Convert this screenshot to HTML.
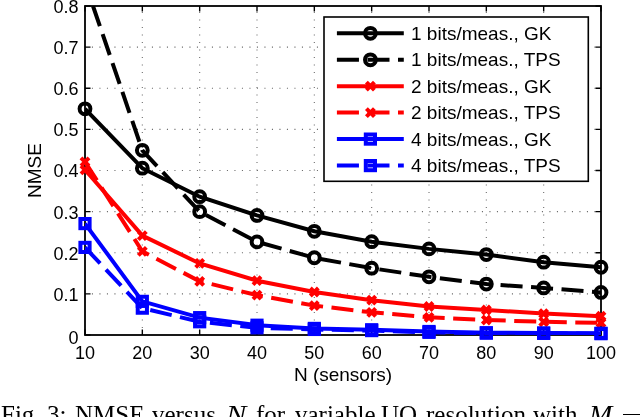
<!DOCTYPE html>
<html><head><meta charset="utf-8"><style>
html,body{margin:0;padding:0;background:#fff;width:640px;height:417px;overflow:hidden;position:relative}
.w{will-change:transform;position:absolute;top:401px;white-space:nowrap;font-family:"Liberation Serif",serif;font-size:25px;color:#000;line-height:27px}
.w i{font-style:italic}
</style></head><body>
<svg width="640" height="417" viewBox="0 0 640 417" style="position:absolute;left:0;top:0;will-change:transform">
<defs><clipPath id="ax"><rect x="85.0" y="6.0" width="516.0" height="329.0"/></clipPath></defs>
<g stroke="#6e6e6e" stroke-width="1.1" stroke-dasharray="1.1 6.4" stroke-dashoffset="-6.9"><line x1="142.33" y1="335.00" x2="142.33" y2="6.00"/><line x1="199.67" y1="335.00" x2="199.67" y2="6.00"/><line x1="257.00" y1="335.00" x2="257.00" y2="6.00"/><line x1="314.33" y1="335.00" x2="314.33" y2="6.00"/><line x1="371.67" y1="335.00" x2="371.67" y2="6.00"/><line x1="429.00" y1="335.00" x2="429.00" y2="6.00"/><line x1="486.33" y1="335.00" x2="486.33" y2="6.00"/><line x1="543.67" y1="335.00" x2="543.67" y2="6.00"/><line x1="85.00" y1="293.88" x2="601.00" y2="293.88"/><line x1="85.00" y1="252.75" x2="601.00" y2="252.75"/><line x1="85.00" y1="211.62" x2="601.00" y2="211.62"/><line x1="85.00" y1="170.50" x2="601.00" y2="170.50"/><line x1="85.00" y1="129.38" x2="601.00" y2="129.38"/><line x1="85.00" y1="88.25" x2="601.00" y2="88.25"/><line x1="85.00" y1="47.13" x2="601.00" y2="47.13"/></g>
<path d="M85.00 335.0V329.5M85.00 6.0V11.5M142.33 335.0V329.5M142.33 6.0V11.5M199.67 335.0V329.5M199.67 6.0V11.5M257.00 335.0V329.5M257.00 6.0V11.5M314.33 335.0V329.5M314.33 6.0V11.5M371.67 335.0V329.5M371.67 6.0V11.5M429.00 335.0V329.5M429.00 6.0V11.5M486.33 335.0V329.5M486.33 6.0V11.5M543.67 335.0V329.5M543.67 6.0V11.5M601.00 335.0V329.5M601.00 6.0V11.5M85.0 335.00H90.5M601.0 335.00H595.5M85.0 293.88H90.5M601.0 293.88H595.5M85.0 252.75H90.5M601.0 252.75H595.5M85.0 211.62H90.5M601.0 211.62H595.5M85.0 170.50H90.5M601.0 170.50H595.5M85.0 129.38H90.5M601.0 129.38H595.5M85.0 88.25H90.5M601.0 88.25H595.5M85.0 47.13H90.5M601.0 47.13H595.5M85.0 6.00H90.5M601.0 6.00H595.5" stroke="#000" stroke-width="1.4" fill="none"/>
<rect x="85.0" y="6.0" width="516.0" height="329.0" fill="none" stroke="#000" stroke-width="1.8"/>
<g clip-path="url(#ax)"><polyline points="85.00,108.81 142.33,168.20 199.67,196.70 257.00,215.41 314.33,231.28 371.67,241.69 429.00,248.88 486.33,254.60 543.67,262.21 601.00,267.27" fill="none" stroke="#000" stroke-width="4.0" stroke-linejoin="miter" stroke-linecap="butt"/></g><circle cx="85.00" cy="108.81" r="5.4" fill="none" stroke="#000" stroke-width="4.0"/><circle cx="142.33" cy="168.20" r="5.4" fill="none" stroke="#000" stroke-width="4.0"/><circle cx="199.67" cy="196.70" r="5.4" fill="none" stroke="#000" stroke-width="4.0"/><circle cx="257.00" cy="215.41" r="5.4" fill="none" stroke="#000" stroke-width="4.0"/><circle cx="314.33" cy="231.28" r="5.4" fill="none" stroke="#000" stroke-width="4.0"/><circle cx="371.67" cy="241.69" r="5.4" fill="none" stroke="#000" stroke-width="4.0"/><circle cx="429.00" cy="248.88" r="5.4" fill="none" stroke="#000" stroke-width="4.0"/><circle cx="486.33" cy="254.60" r="5.4" fill="none" stroke="#000" stroke-width="4.0"/><circle cx="543.67" cy="262.21" r="5.4" fill="none" stroke="#000" stroke-width="4.0"/><circle cx="601.00" cy="267.27" r="5.4" fill="none" stroke="#000" stroke-width="4.0"/>
<g clip-path="url(#ax)"><polyline points="93.01,6.00 142.33,150.35 199.67,211.67 257.00,241.89 314.33,257.77 371.67,268.21 429.00,276.81 486.33,284.09 543.67,287.91 601.00,292.44" fill="none" stroke="#000" stroke-width="4.0" stroke-linejoin="miter" stroke-linecap="butt" stroke-dasharray="22.05 8.5" stroke-dashoffset="0.8"/></g><circle cx="142.33" cy="150.35" r="5.4" fill="none" stroke="#000" stroke-width="4.0"/><circle cx="199.67" cy="211.67" r="5.4" fill="none" stroke="#000" stroke-width="4.0"/><circle cx="257.00" cy="241.89" r="5.4" fill="none" stroke="#000" stroke-width="4.0"/><circle cx="314.33" cy="257.77" r="5.4" fill="none" stroke="#000" stroke-width="4.0"/><circle cx="371.67" cy="268.21" r="5.4" fill="none" stroke="#000" stroke-width="4.0"/><circle cx="429.00" cy="276.81" r="5.4" fill="none" stroke="#000" stroke-width="4.0"/><circle cx="486.33" cy="284.09" r="5.4" fill="none" stroke="#000" stroke-width="4.0"/><circle cx="543.67" cy="287.91" r="5.4" fill="none" stroke="#000" stroke-width="4.0"/><circle cx="601.00" cy="292.44" r="5.4" fill="none" stroke="#000" stroke-width="4.0"/>
<g clip-path="url(#ax)"><polyline points="85.00,169.80 142.33,235.60 199.67,263.44 257.00,280.71 314.33,292.02 371.67,300.21 429.00,306.50 486.33,310.00 543.67,313.57 601.00,316.25" fill="none" stroke="#f00" stroke-width="4.0" stroke-linejoin="miter" stroke-linecap="butt"/></g><path d="M81.00 165.80L89.00 173.80M89.00 165.80L81.00 173.80" fill="none" stroke="#f00" stroke-width="4.0" stroke-linecap="butt"/><path d="M138.33 231.60L146.33 239.60M146.33 231.60L138.33 239.60" fill="none" stroke="#f00" stroke-width="4.0" stroke-linecap="butt"/><path d="M195.67 259.44L203.67 267.44M203.67 259.44L195.67 267.44" fill="none" stroke="#f00" stroke-width="4.0" stroke-linecap="butt"/><path d="M253.00 276.71L261.00 284.71M261.00 276.71L253.00 284.71" fill="none" stroke="#f00" stroke-width="4.0" stroke-linecap="butt"/><path d="M310.33 288.02L318.33 296.02M318.33 288.02L310.33 296.02" fill="none" stroke="#f00" stroke-width="4.0" stroke-linecap="butt"/><path d="M367.67 296.21L375.67 304.21M375.67 296.21L367.67 304.21" fill="none" stroke="#f00" stroke-width="4.0" stroke-linecap="butt"/><path d="M425.00 302.50L433.00 310.50M433.00 302.50L425.00 310.50" fill="none" stroke="#f00" stroke-width="4.0" stroke-linecap="butt"/><path d="M482.33 306.00L490.33 314.00M490.33 306.00L482.33 314.00" fill="none" stroke="#f00" stroke-width="4.0" stroke-linecap="butt"/><path d="M539.67 309.57L547.67 317.57M547.67 309.57L539.67 317.57" fill="none" stroke="#f00" stroke-width="4.0" stroke-linecap="butt"/><path d="M597.00 312.25L605.00 320.25M605.00 312.25L597.00 320.25" fill="none" stroke="#f00" stroke-width="4.0" stroke-linecap="butt"/>
<g clip-path="url(#ax)"><polyline points="85.00,161.86 142.33,251.39 199.67,281.29 257.00,295.11 314.33,305.60 371.67,312.30 429.00,317.32 486.33,319.99 543.67,321.84 601.00,322.87" fill="none" stroke="#f00" stroke-width="4.0" stroke-linejoin="miter" stroke-linecap="butt" stroke-dasharray="22.05 8.5" stroke-dashoffset="0"/></g><path d="M81.00 157.86L89.00 165.86M89.00 157.86L81.00 165.86" fill="none" stroke="#f00" stroke-width="4.0" stroke-linecap="butt"/><path d="M138.33 247.39L146.33 255.39M146.33 247.39L138.33 255.39" fill="none" stroke="#f00" stroke-width="4.0" stroke-linecap="butt"/><path d="M195.67 277.29L203.67 285.29M203.67 277.29L195.67 285.29" fill="none" stroke="#f00" stroke-width="4.0" stroke-linecap="butt"/><path d="M253.00 291.11L261.00 299.11M261.00 291.11L253.00 299.11" fill="none" stroke="#f00" stroke-width="4.0" stroke-linecap="butt"/><path d="M310.33 301.60L318.33 309.60M318.33 301.60L310.33 309.60" fill="none" stroke="#f00" stroke-width="4.0" stroke-linecap="butt"/><path d="M367.67 308.30L375.67 316.30M375.67 308.30L367.67 316.30" fill="none" stroke="#f00" stroke-width="4.0" stroke-linecap="butt"/><path d="M425.00 313.32L433.00 321.32M433.00 313.32L425.00 321.32" fill="none" stroke="#f00" stroke-width="4.0" stroke-linecap="butt"/><path d="M482.33 315.99L490.33 323.99M490.33 315.99L482.33 323.99" fill="none" stroke="#f00" stroke-width="4.0" stroke-linecap="butt"/><path d="M539.67 317.84L547.67 325.84M547.67 317.84L539.67 325.84" fill="none" stroke="#f00" stroke-width="4.0" stroke-linecap="butt"/><path d="M597.00 318.87L605.00 326.87M605.00 318.87L597.00 326.87" fill="none" stroke="#f00" stroke-width="4.0" stroke-linecap="butt"/>
<g clip-path="url(#ax)"><polyline points="85.00,223.59 142.33,301.36 199.67,317.65 257.00,325.21 314.33,328.42 371.67,329.74 429.00,331.50 486.33,332.74 543.67,332.94 601.00,333.27" fill="none" stroke="#00f" stroke-width="4.0" stroke-linejoin="miter" stroke-linecap="butt"/></g><rect x="80.40" y="218.99" width="9.20" height="9.20" fill="none" stroke="#00f" stroke-width="4.0"/><rect x="137.73" y="296.76" width="9.20" height="9.20" fill="none" stroke="#00f" stroke-width="4.0"/><rect x="195.07" y="313.05" width="9.20" height="9.20" fill="none" stroke="#00f" stroke-width="4.0"/><rect x="252.40" y="320.61" width="9.20" height="9.20" fill="none" stroke="#00f" stroke-width="4.0"/><rect x="309.73" y="323.82" width="9.20" height="9.20" fill="none" stroke="#00f" stroke-width="4.0"/><rect x="367.07" y="325.14" width="9.20" height="9.20" fill="none" stroke="#00f" stroke-width="4.0"/><rect x="424.40" y="326.90" width="9.20" height="9.20" fill="none" stroke="#00f" stroke-width="4.0"/><rect x="481.73" y="328.14" width="9.20" height="9.20" fill="none" stroke="#00f" stroke-width="4.0"/><rect x="539.07" y="328.34" width="9.20" height="9.20" fill="none" stroke="#00f" stroke-width="4.0"/><rect x="596.40" y="328.67" width="9.20" height="9.20" fill="none" stroke="#00f" stroke-width="4.0"/>
<g clip-path="url(#ax)"><polyline points="85.00,247.40 142.33,308.15 199.67,321.76 257.00,327.80 314.33,329.45 371.67,330.60 429.00,332.33 486.33,333.15 543.67,333.36 601.00,333.68" fill="none" stroke="#00f" stroke-width="4.0" stroke-linejoin="miter" stroke-linecap="butt" stroke-dasharray="22.05 8.5" stroke-dashoffset="0"/></g><rect x="80.40" y="242.80" width="9.20" height="9.20" fill="none" stroke="#00f" stroke-width="4.0"/><rect x="137.73" y="303.55" width="9.20" height="9.20" fill="none" stroke="#00f" stroke-width="4.0"/><rect x="195.07" y="317.16" width="9.20" height="9.20" fill="none" stroke="#00f" stroke-width="4.0"/><rect x="252.40" y="323.20" width="9.20" height="9.20" fill="none" stroke="#00f" stroke-width="4.0"/><rect x="309.73" y="324.85" width="9.20" height="9.20" fill="none" stroke="#00f" stroke-width="4.0"/><rect x="367.07" y="326.00" width="9.20" height="9.20" fill="none" stroke="#00f" stroke-width="4.0"/><rect x="424.40" y="327.73" width="9.20" height="9.20" fill="none" stroke="#00f" stroke-width="4.0"/><rect x="481.73" y="328.55" width="9.20" height="9.20" fill="none" stroke="#00f" stroke-width="4.0"/><rect x="539.07" y="328.75" width="9.20" height="9.20" fill="none" stroke="#00f" stroke-width="4.0"/><rect x="596.40" y="329.08" width="9.20" height="9.20" fill="none" stroke="#00f" stroke-width="4.0"/>
<rect x="324.0" y="17.0" width="264.29999999999995" height="164.3" fill="#fff" stroke="#000" stroke-width="1.6"/>
<line x1="336.9" y1="33.3" x2="403.8" y2="33.3" stroke="#000" stroke-width="4.0"/>
<circle cx="370.40" cy="33.30" r="5.4" fill="none" stroke="#000" stroke-width="4.0"/>
<text x="411" y="39.90" font-family="Liberation Sans" font-size="19" fill="#000">1 bits/meas., GK</text>
<line x1="336.9" y1="59.8" x2="403.8" y2="59.8" stroke="#000" stroke-width="4.0" stroke-dasharray="22.05 8.5"/>
<circle cx="370.40" cy="59.80" r="5.4" fill="none" stroke="#000" stroke-width="4.0"/>
<text x="411" y="66.40" font-family="Liberation Sans" font-size="19" fill="#000">1 bits/meas., TPS</text>
<line x1="336.9" y1="86.2" x2="403.8" y2="86.2" stroke="#f00" stroke-width="4.0"/>
<path d="M366.40 82.20L374.40 90.20M374.40 82.20L366.40 90.20" fill="none" stroke="#f00" stroke-width="4.0" stroke-linecap="butt"/>
<text x="411" y="92.80" font-family="Liberation Sans" font-size="19" fill="#000">2 bits/meas., GK</text>
<line x1="336.9" y1="112.6" x2="403.8" y2="112.6" stroke="#f00" stroke-width="4.0" stroke-dasharray="22.05 8.5"/>
<path d="M366.40 108.60L374.40 116.60M374.40 108.60L366.40 116.60" fill="none" stroke="#f00" stroke-width="4.0" stroke-linecap="butt"/>
<text x="411" y="119.20" font-family="Liberation Sans" font-size="19" fill="#000">2 bits/meas., TPS</text>
<line x1="336.9" y1="139.1" x2="403.8" y2="139.1" stroke="#00f" stroke-width="4.0"/>
<rect x="365.80" y="134.50" width="9.20" height="9.20" fill="none" stroke="#00f" stroke-width="4.0"/>
<text x="411" y="145.70" font-family="Liberation Sans" font-size="19" fill="#000">4 bits/meas., GK</text>
<line x1="336.9" y1="165.6" x2="403.8" y2="165.6" stroke="#00f" stroke-width="4.0" stroke-dasharray="22.05 8.5"/>
<rect x="365.80" y="161.00" width="9.20" height="9.20" fill="none" stroke="#00f" stroke-width="4.0"/>
<text x="411" y="172.20" font-family="Liberation Sans" font-size="19" fill="#000">4 bits/meas., TPS</text>
<text x="78.5" y="343.50" text-anchor="end" font-family="Liberation Sans" font-size="18">0</text>
<text x="78.5" y="300.77" text-anchor="end" font-family="Liberation Sans" font-size="18">0.1</text>
<text x="78.5" y="259.65" text-anchor="end" font-family="Liberation Sans" font-size="18">0.2</text>
<text x="78.5" y="218.53" text-anchor="end" font-family="Liberation Sans" font-size="18">0.3</text>
<text x="78.5" y="177.40" text-anchor="end" font-family="Liberation Sans" font-size="18">0.4</text>
<text x="78.5" y="136.28" text-anchor="end" font-family="Liberation Sans" font-size="18">0.5</text>
<text x="78.5" y="95.15" text-anchor="end" font-family="Liberation Sans" font-size="18">0.6</text>
<text x="78.5" y="54.03" text-anchor="end" font-family="Liberation Sans" font-size="18">0.7</text>
<text x="78.5" y="12.90" text-anchor="end" font-family="Liberation Sans" font-size="18">0.8</text>
<text x="85.00" y="358.5" text-anchor="middle" font-family="Liberation Sans" font-size="18">10</text>
<text x="142.33" y="358.5" text-anchor="middle" font-family="Liberation Sans" font-size="18">20</text>
<text x="199.67" y="358.5" text-anchor="middle" font-family="Liberation Sans" font-size="18">30</text>
<text x="257.00" y="358.5" text-anchor="middle" font-family="Liberation Sans" font-size="18">40</text>
<text x="314.33" y="358.5" text-anchor="middle" font-family="Liberation Sans" font-size="18">50</text>
<text x="371.67" y="358.5" text-anchor="middle" font-family="Liberation Sans" font-size="18">60</text>
<text x="429.00" y="358.5" text-anchor="middle" font-family="Liberation Sans" font-size="18">70</text>
<text x="486.33" y="358.5" text-anchor="middle" font-family="Liberation Sans" font-size="18">80</text>
<text x="543.67" y="358.5" text-anchor="middle" font-family="Liberation Sans" font-size="18">90</text>
<text x="601.00" y="358.5" text-anchor="middle" font-family="Liberation Sans" font-size="18">100</text>
<text x="343" y="380.5" text-anchor="middle" font-family="Liberation Sans" font-size="19">N (sensors)</text>
<text transform="translate(41,170.5) rotate(-90)" text-anchor="middle" font-family="Liberation Sans" font-size="19">NMSE</text>
</svg>
<span class="w" style="left:1.10px">Fig.</span><span class="w" style="left:47.30px">3:</span><span class="w" style="left:75.30px">NMSE</span><span class="w" style="left:152.20px">versus</span><span class="w" style="left:226.20px"><i style="display:inline-block;transform:scaleX(1.22);transform-origin:0 0">N</i></span><span class="w" style="left:255.95px">for</span><span class="w" style="left:294.70px">variable</span><span class="w" style="left:380.95px">UQ</span><span class="w" style="left:425.90px">resolution</span><span class="w" style="left:533.45px">with</span><span class="w" style="left:588.70px"><i style="display:inline-block;transform:scaleX(1.12);transform-origin:0 0">M</i></span><div style="position:absolute;left:623px;top:413.6px;width:20px;height:1.3px;background:#000"></div>
</body></html>
